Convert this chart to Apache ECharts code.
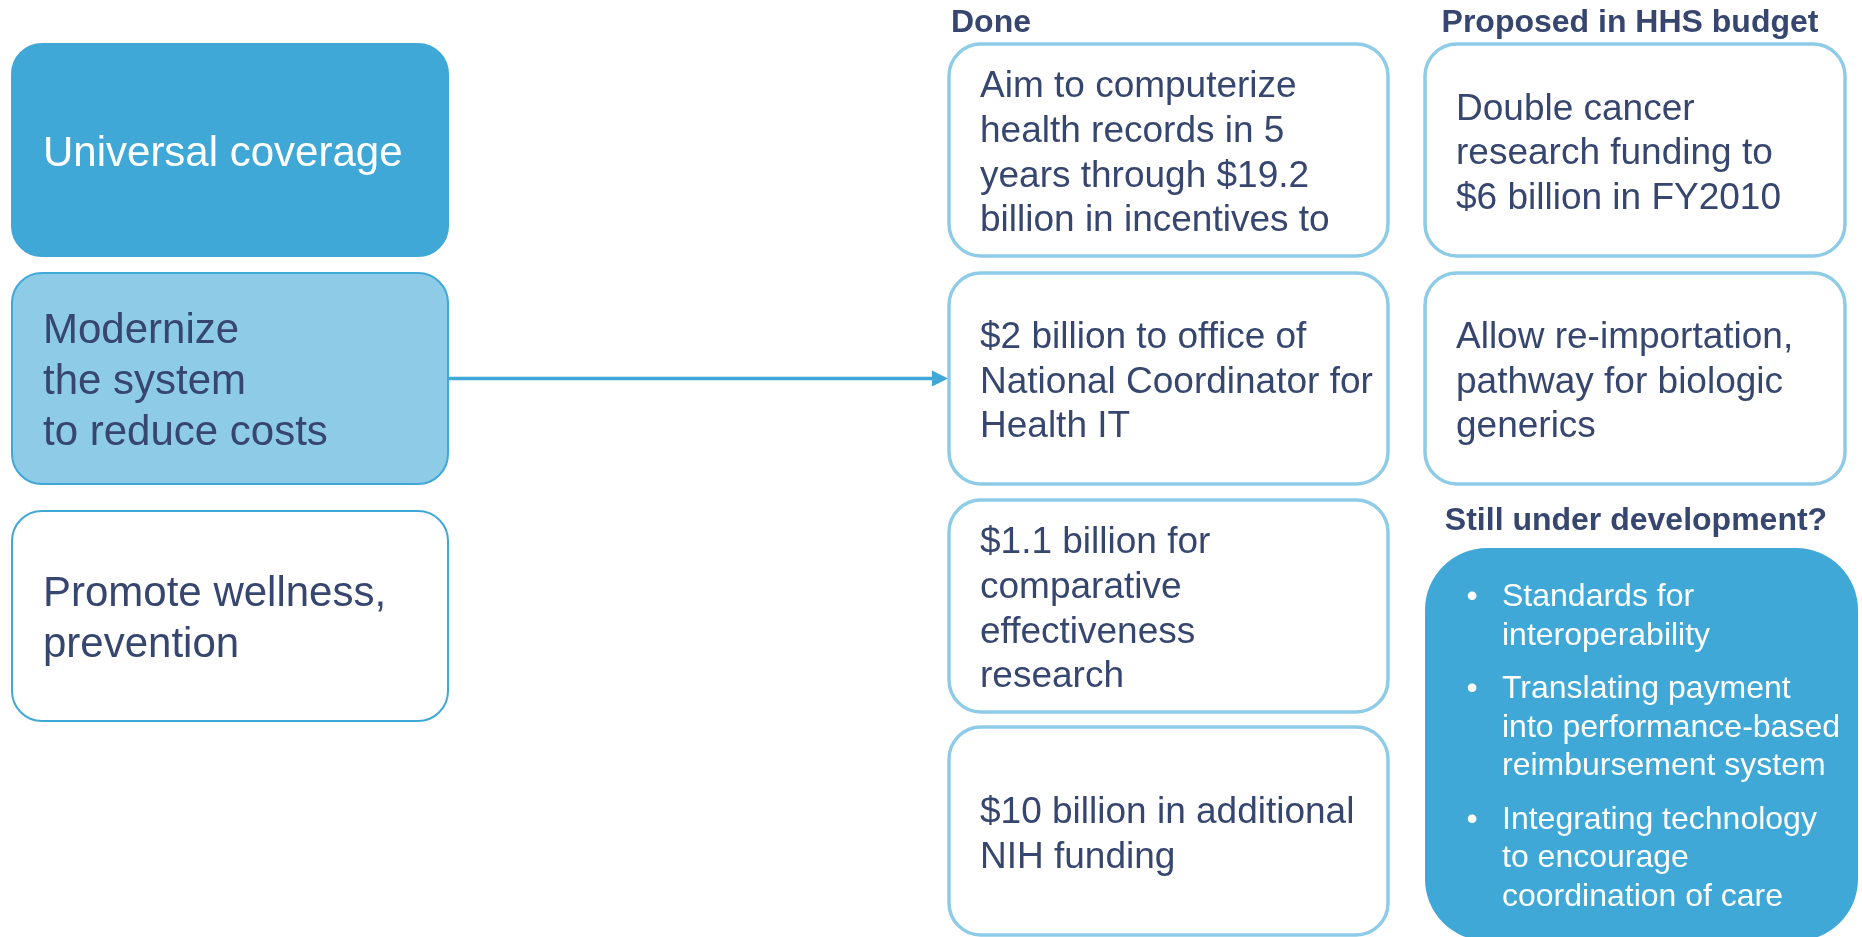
<!DOCTYPE html>
<html>
<head>
<meta charset="utf-8">
<title>Health reform goals</title>
<script src="https://cdn.jsdelivr.net/npm/echarts@6/dist/echarts.min.js"></script>
<style>
  html, body { margin: 0; padding: 0; background: #ffffff; }
  #main { width: 1862px; height: 937px; }
</style>
</head>
<body>
<div id="main"></div>
<script>

// content

var goals = [
    'Universal coverage',
    'Modernize\nthe system\nto reduce costs',
    'Promote wellness,\nprevention'
];

var doneItems = [
    'Aim to computerize\nhealth records in 5\nyears through $19.2\nbillion in incentives to',
    '$2 billion to office of\nNational Coordinator for\nHealth IT',
    '$1.1 billion for\ncomparative\neffectiveness\nresearch',
    '$10 billion in additional\nNIH funding'
];

var proposedItems = [
    'Double cancer\nresearch funding to\n$6 billion in FY2010',
    'Allow re-importation,\npathway for biologic\ngenerics'
];

var devItems = [
    'Standards for\ninteroperability',
    'Translating payment\ninto performance-based\nreimbursement system',
    'Integrating technology\nto encourage\ncoordination of care'
];

var headings = ['Done', 'Proposed in HHS budget', 'Still under development?'];

// goal that the arrow starts from
var linkedGoal = 1;


// layout (axis units = page pixels)

var goalX = [12, 448];
var goalTop = [44, 273, 511];
var goalBottom = [256, 484, 721];

var doneX = [949, 1388];
var doneTop = [44, 273, 500, 727];
var doneBottom = [256, 484, 712, 935];

var propX = [1425, 1845];
var propTop = [44, 273];
var propBottom = [256, 484];

var devRect = [1425, 548, 1858, 941];

var navy = '#36466f';
var blue = '#3fa8d6';
var lightBlue = '#8ecbe6';
var fontFamily = '"Liberation Sans", Arial, sans-serif';

var kinds = {
    goalSolid: { fill: blue, stroke: blue, lw: 2, r: 30, color: '#ffffff', size: 42, lh: 51, pad: 31 },
    goalLight: { fill: lightBlue, stroke: blue, lw: 2, r: 30, color: navy, size: 42, lh: 51, pad: 31 },
    goalPlain: { fill: '#ffffff', stroke: blue, lw: 2, r: 30, color: navy, size: 42, lh: 51, pad: 31 },
    item: { fill: '#ffffff', stroke: lightBlue, lw: 3.5, r: 32, color: navy, size: 37, lh: 44.7, pad: 31 },
    dev: { fill: blue, stroke: blue, lw: 0, r: 62, color: '#ffffff', size: 32, lh: 38.5, pad: 77 }
};

var goalKinds = ['goalSolid', 'goalLight', 'goalPlain'];

var boxes = [];
goals.forEach(function (t, i) {
    boxes.push({ x0: goalX[0], y0: goalTop[i], x1: goalX[1], y1: goalBottom[i], kind: goalKinds[i], text: t });
});
doneItems.forEach(function (t, i) {
    boxes.push({ x0: doneX[0], y0: doneTop[i], x1: doneX[1], y1: doneBottom[i], kind: 'item', text: t });
});
proposedItems.forEach(function (t, i) {
    boxes.push({ x0: propX[0], y0: propTop[i], x1: propX[1], y1: propBottom[i], kind: 'item', text: t });
});
boxes.push({ x0: devRect[0], y0: devRect[1], x1: devRect[2], y1: devRect[3], kind: 'dev', bullets: devItems });

var titles = [
    { text: headings[0], x: 951, y: 23, align: 'left' },
    { text: headings[1], x: 1630, y: 23, align: 'center' },
    { text: headings[2], x: 1636, y: 521, align: 'center' }
];

function textEl(str, p, color, font, lh, align, valign) {
    return {
        type: 'text',
        x: p[0],
        y: p[1],
        style: {
            text: str,
            fill: color,
            font: font,
            lineHeight: lh,
            align: align,
            verticalAlign: valign,
            textAlign: align,
            textVerticalAlign: valign
        }
    };
}

function renderBox(params, api) {
    var b = boxes[params.dataIndex];
    var k = kinds[b.kind];
    var tl = api.coord([b.x0, b.y0]);
    var br = api.coord([b.x1, b.y1]);
    var font = k.size + 'px ' + fontFamily;
    var children = [{
        type: 'rect',
        shape: { x: tl[0], y: tl[1], width: br[0] - tl[0], height: br[1] - tl[1], r: k.r },
        style: { fill: k.fill, stroke: k.lw ? k.stroke : null, lineWidth: k.lw }
    }];
    if (b.bullets) {
        var y = b.y0 + 49.5;
        b.bullets.forEach(function (t) {
            var n = t.split('\n').length;
            children.push(textEl('\u2022', api.coord([b.x0 + 47, y]), k.color, '32px ' + fontFamily, k.lh, 'center', 'middle'));
            children.push(textEl(t, api.coord([b.x0 + k.pad, y - k.lh / 2]), k.color, font, k.lh, 'left', 'top'));
            y += n * k.lh + 15;
        });
    } else {
        var p = api.coord([b.x0 + k.pad, (b.y0 + b.y1) / 2 + 4]);
        children.push(textEl(b.text, p, k.color, font, k.lh, 'left', 'middle'));
    }
    return { type: 'group', children: children };
}

function renderTitle(params, api) {
    var t = titles[params.dataIndex];
    var p = api.coord([t.x, t.y]);
    return textEl(t.text, p, navy, 'bold 32px ' + fontFamily, 36, t.align, 'middle');
}

var arrowY = (goalTop[linkedGoal] + goalBottom[linkedGoal]) / 2;

var myChart = echarts.init(document.getElementById('main'));

var option = {
    animation: false,
    grid: { left: 0, right: 0, top: 0, bottom: 0 },
    xAxis: { type: 'value', min: 0, max: 1862, show: false },
    yAxis: { type: 'value', min: 0, max: 937, inverse: true, show: false },
    series: [
        {
            type: 'custom',
            name: 'boxes',
            renderItem: renderBox,
            data: boxes.map(function (b) { return [b.x0, b.y0, b.x1, b.y1]; }),
            silent: true
        },
        {
            type: 'custom',
            name: 'titles',
            renderItem: renderTitle,
            data: titles.map(function (t) { return [t.x, t.y]; }),
            silent: true
        },
        {
            type: 'lines',
            coordinateSystem: 'cartesian2d',
            data: [{ coords: [[goalX[1], arrowY], [doneX[0] - 9, arrowY]] }],
            lineStyle: { color: blue, width: 3.4, opacity: 1 },
            symbol: ['none', 'triangle'],
            symbolSize: 16,
            silent: true
        }
    ]
};

myChart.setOption(option);

window.addEventListener('resize', function () {
    myChart.resize();
});
</script>
</body>
</html>
